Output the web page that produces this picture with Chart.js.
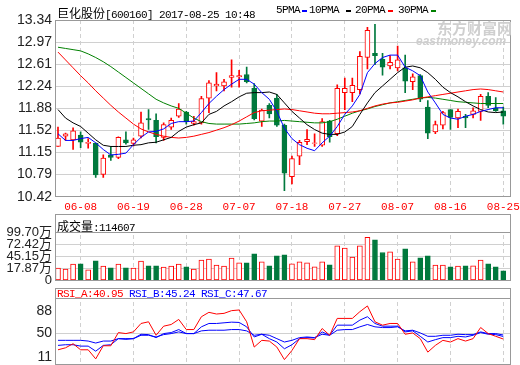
<!DOCTYPE html>
<html>
<head>
<meta charset="utf-8">
<script src="https://cdn.jsdelivr.net/npm/chart.js@4.4.0/dist/chart.umd.min.js"></script>
<style>
  html, body { margin: 0; padding: 0; background: #fff; }
  #wrap { position: relative; width: 520px; height: 365px; overflow: hidden; }
  canvas { position: absolute; left: 0; }
  .txt { position: absolute; white-space: nowrap; font: 11px 'Liberation Mono', monospace; letter-spacing: -0.6px; line-height: 12px; color: #000; }
  .cjk { font: 12px 'Noto Sans CJK SC', sans-serif; letter-spacing: 0; }
  .dash { position: absolute; width: 5px; height: 2px; }
  .wm { position: absolute; white-space: nowrap; color: #cfcfcf; font-weight: bold; }
</style>
</head>
<body>
<div id="wrap">
  <canvas id="main" width="520" height="214" style="top:0"></canvas>
  <canvas id="vol" width="520" height="81" style="top:207px"></canvas>
  <canvas id="rsi" width="520" height="84" style="top:281px"></canvas>

  <div class="txt" style="left:57px;top:4px"><span class="cjk">巨化股份</span>[600160] 2017-08-25 10:48</div>
  <div class="txt" style="left:276px;top:4px">5PMA</div><div class="dash" style="left:302px;top:10px;background:#0000ff"></div>
  <div class="txt" style="left:309px;top:4px">10PMA</div><div class="dash" style="left:346px;top:10px;background:#000"></div>
  <div class="txt" style="left:355px;top:4px">20PMA</div><div class="dash" style="left:388px;top:10px;background:#ff0000"></div>
  <div class="txt" style="left:398px;top:4px">30PMA</div><div class="dash" style="left:431px;top:10px;background:#008000"></div>

  <div class="wm" style="left:437px;top:20px;font:bold 15px 'Noto Sans CJK SC', sans-serif;line-height:15px">东方财富网</div>
  <div class="wm" style="left:416px;top:35px;font:italic bold 12px 'Liberation Sans', sans-serif;line-height:12px">eastmoney.com</div>

  <div class="txt" style="left:57px;top:217px"><span class="cjk">成交量</span>:114607</div>
  <div class="txt" style="left:57px;top:288px;color:#ff0000">RSI_A:40.95</div>
  <div class="txt" style="left:129px;top:288px;color:#0000ff">RSI_B:45.24</div>
  <div class="txt" style="left:201px;top:288px;color:#0000ff">RSI_C:47.67</div>
</div>
<script>
const DATES = ['06-05','06-06','06-07','06-08','06-09','06-12','06-13','06-14','06-15','06-16',
  '06-19','06-20','06-21','06-22','06-23','06-26','06-27','06-28','06-29','06-30',
  '07-03','07-04','07-05','07-06','07-07','07-10','07-11','07-12','07-13','07-14',
  '07-17','07-18','07-19','07-20','07-21','07-24','07-25','07-26','07-27','07-28',
  '07-31','08-01','08-02','08-03','08-04','08-07','08-08','08-09','08-10','08-11',
  '08-14','08-15','08-16','08-17','08-18','08-21','08-22','08-23','08-24','08-25'];

const OPEN = [11.25,11.42,11.36,11.44,11.30,11.30,10.79,11.11,11.07,11.36,
  11.30,11.42,11.71,11.68,11.40,11.57,11.75,11.82,11.63,11.64,
  12.05,12.25,12.25,12.39,12.40,12.44,12.21,11.67,11.93,12.05,
  11.60,10.75,11.09,11.33,11.30,11.27,11.67,11.46,12.14,12.14,
  12.19,12.72,12.79,12.69,12.58,12.55,12.55,12.32,12.42,11.90,
  11.49,11.60,11.86,11.72,11.75,11.78,11.83,12.08,11.88,11.84];
const HIGH = [11.57,11.47,11.56,11.49,11.38,11.31,11.11,11.25,11.41,11.49,
  11.39,11.82,11.86,11.79,11.64,11.72,11.96,11.83,11.75,12.08,
  12.34,12.47,12.36,12.68,12.51,12.56,12.29,11.87,11.96,12.11,
  11.62,11.09,11.35,11.53,11.46,11.71,11.68,12.27,12.38,12.38,
  12.82,13.22,13.27,12.79,12.75,12.91,12.76,12.45,12.44,12.01,
  11.67,11.83,11.86,11.87,11.78,11.89,12.11,12.14,12.06,11.90];
const LOW = [11.25,11.35,11.20,11.23,11.22,10.74,10.74,11.02,11.05,11.29,
  11.26,11.39,11.53,11.31,11.35,11.53,11.73,11.62,11.60,11.62,
  11.81,12.17,12.17,12.23,12.23,12.30,11.69,11.58,11.72,11.58,
  10.52,10.63,10.95,11.28,11.25,11.25,11.32,11.43,11.86,11.99,
  12.12,12.53,12.60,12.43,12.53,12.50,12.14,12.19,11.99,11.38,
  11.46,11.54,11.53,11.56,11.56,11.72,11.68,11.89,11.83,11.62];
const CLOSE = [11.39,11.46,11.51,11.32,11.32,10.78,11.06,11.07,11.40,11.31,
  11.36,11.64,11.69,11.41,11.61,11.68,11.87,11.66,11.66,12.04,
  12.30,12.28,12.32,12.42,12.42,12.32,11.71,11.85,11.79,11.60,
  10.81,11.05,11.32,11.37,11.31,11.66,11.41,12.21,12.21,12.26,
  12.74,13.17,12.75,12.56,12.64,12.68,12.33,12.40,12.03,11.47,
  11.61,11.81,11.73,11.83,11.72,11.84,12.08,11.93,11.84,11.75];

// moving averages
const MA5 = [11.46,11.35,11.35,11.38,11.40,11.31,11.20,11.11,11.12,11.14,
  11.28,11.40,11.49,11.50,11.54,11.63,11.66,11.66,11.67,11.81,
  11.96,12.08,12.19,12.28,12.36,12.36,12.28,12.14,12.03,11.83,
  11.55,11.38,11.28,11.22,11.18,11.31,11.42,11.58,11.78,11.92,
  12.11,12.47,12.62,12.72,12.76,12.76,12.56,12.50,12.42,12.15,
  11.97,11.78,11.72,11.70,11.75,11.78,11.83,11.86,11.89,11.89];
const MA10 = [11.86,11.72,11.64,11.58,11.47,11.36,11.27,11.25,11.25,11.25,
  11.27,11.28,11.31,11.32,11.36,11.40,11.50,11.57,11.61,11.64,
  11.78,11.83,11.92,11.99,12.07,12.13,12.14,12.14,12.15,12.11,
  11.97,11.83,11.72,11.61,11.53,11.47,11.45,11.45,11.49,11.58,
  11.78,11.97,12.14,12.25,12.36,12.47,12.56,12.58,12.55,12.47,
  12.36,12.23,12.14,12.07,11.99,11.92,11.86,11.82,11.81,11.82];
const MA20 = [12.81,12.68,12.55,12.42,12.30,12.17,12.05,11.93,11.82,11.72,
  11.62,11.54,11.49,11.45,11.42,11.40,11.39,11.40,11.42,11.45,
  11.48,11.52,11.56,11.61,11.67,11.74,11.81,11.84,11.85,11.86,
  11.87,11.86,11.84,11.82,11.80,11.79,11.79,11.80,11.81,11.82,
  11.84,11.88,11.92,11.95,11.97,11.98,12.00,12.02,12.05,12.07,
  12.09,12.11,12.13,12.15,12.17,12.19,12.20,12.19,12.17,12.15];
const MA30 = [12.89,12.87,12.85,12.83,12.78,12.72,12.65,12.57,12.48,12.39,
  12.30,12.21,12.12,12.03,11.97,11.92,11.88,11.80,11.72,11.66,
  11.63,11.62,11.62,11.62,11.62,11.63,11.64,11.66,11.67,11.67,
  11.68,11.67,11.66,11.65,11.64,11.64,11.66,11.70,11.75,11.80,
  11.84,11.87,11.91,11.94,11.97,11.99,12.01,12.03,12.05,12.06,
  12.05,12.03,12.01,11.99,11.98,11.97,11.96,11.96,11.96,11.96];

// volume in 万
const VOL = [17.8,15.5,26.9,27.6,14.0,34.5,22.3,18.6,26.9,18.6,
  17.8,33.7,23.1,23.1,20.1,22.3,26.9,20.8,15.5,36.0,
  38.2,24.6,22.3,40.5,29.9,29.9,50.4,32.2,23.1,45.8,
  48.1,27.6,32.2,29.9,20.8,32.2,25.4,68.6,63.2,42.8,
  68.6,88.3,82.2,53.4,54.9,38.2,61.7,32.2,41.3,45.8,
  24.6,24.6,20.8,22.3,23.1,23.1,36.0,27.6,20.8,11.46];

const RSI_A = [23.1,26.4,33.2,23.1,23.1,8.0,29.8,29.8,51.7,50.0,
  52.8,66.8,69.6,47.2,62.3,65.1,73.5,56.7,56.7,78.0,
  85.3,82.5,83.6,88.1,89.2,69.6,27.6,38.8,37.6,27.6,
  6.8,22.0,41.6,41.6,39.9,58.4,47.2,75.2,75.2,75.2,
  86.4,95.9,69.6,64.0,66.8,66.8,48.9,51.1,41.6,19.2,
  30.4,38.8,36.0,41.6,37.6,41.6,60.1,50.0,45.5,40.95];
const RSI_B = [30.4,31.5,31.5,29.2,29.2,20.8,30.4,31.5,41.6,40.4,
  41.6,48.9,48.3,43.3,50.0,51.7,56.7,50.0,50.0,61.2,
  66.8,66.8,67.9,69.0,68.5,61.2,44.4,48.9,41.6,36.0,
  24.8,31.5,41.6,43.3,42.7,52.8,47.2,64.0,64.0,64.0,
  72.4,78.0,66.8,62.3,62.3,62.3,52.8,54.5,45.5,36.0,
  39.9,43.3,43.3,45.5,44.4,47.2,51.7,48.9,48.3,45.24];
const RSI_C = [38.8,38.8,38.8,38.8,37.6,34.3,37.6,37.6,41.6,41.6,
  41.6,47.2,47.2,44.4,48.3,50.0,52.8,50.0,50.0,54.5,
  55.6,55.6,55.6,56.7,56.7,54.5,47.2,48.9,47.2,41.6,
  36.0,38.8,43.3,44.4,43.3,48.9,47.2,55.6,56.7,56.7,
  61.2,65.1,61.2,60.0,60.0,61.2,54.5,55.6,51.1,45.5,
  45.5,47.2,47.2,48.9,48.3,48.3,52.8,50.0,50.0,47.67];

const PRICE_TICKS = [10.42, 10.79, 11.15, 11.52, 11.88, 12.24, 12.61, 12.97, 13.34];
const VOL_TICKS = [17.87, 45.15, 72.42, 99.70];
const RSI_TICKS = [11, 50, 88];
const DATE_TICKS = [3, 10, 17, 24, 31, 38, 45, 52, 59];

const RED = '#ff0000', GREEN = '#00793d', GRID = '#d0d0d0', FRAME = '#999999';
const FAMILY = "'Liberation Sans Narrow', 'Liberation Sans', 'Noto Sans CJK SC', sans-serif";
const isUp = i => CLOSE[i] >= OPEN[i];
const VOL_FLOOR = VOL_TICKS[0] - (VOL_TICKS[1] - VOL_TICKS[0]);

// fixed axis sizes, and no extra room for label overhang
function fitY(s) { s.width = 55.5; s.paddingTop = 0; s.paddingBottom = 0; }

function xScale(showLabels) {
  return {
    type: 'linear', min: -0.33, max: 59.89, bounds: 'data', offset: false,
    afterBuildTicks: s => { s.ticks = DATE_TICKS.map(v => ({ value: v })); },
    afterFit: s => { s.height = showLabels ? 17.3 : 0; s.paddingLeft = 0; s.paddingRight = 0; },
    grid: { color: GRID, drawTicks: false, offset: false },
    border: { display: false, dash: [4, 3] },
    ticks: {
      display: showLabels, color: RED, padding: 4, maxRotation: 0, autoSkip: false,
      font: { family: "'Liberation Mono', monospace", size: 11 },
      callback: v => DATES[v]
    }
  };
}

function frame(boxLine) {
  return {
    id: 'frame',
    beforeDatasetsDraw(chart) {
      if (!boxLine) return;
      const { ctx, chartArea: a } = chart;
      ctx.save();
      ctx.fillStyle = '#fff';
      ctx.fillRect(a.left, a.top, a.right - a.left, boxLine(chart) - a.top);
      ctx.restore();
    },
    afterDraw(chart) {
      const { ctx, chartArea: a } = chart;
      ctx.save();
      ctx.strokeStyle = FRAME;
      ctx.lineWidth = 1;
      const l = Math.floor(a.left) + 0.5, r = Math.floor(a.right) + 0.5;
      const t = Math.floor(a.top) + 0.5, b = Math.floor(a.bottom) + 0.5;
      ctx.strokeRect(l, t, r - l, b - t);
      if (boxLine) {
        const y = Math.floor(boxLine(chart)) + 0.5;
        ctx.beginPath(); ctx.moveTo(l, y); ctx.lineTo(r, y); ctx.stroke();
      }
      ctx.restore();
    }
  };
}

const common = {
  responsive: false, animation: false, devicePixelRatio: 1, events: [],
  plugins: { legend: { display: false }, tooltip: { enabled: false } }
};

function maLine(arr, color) {
  return { type: 'line', data: arr.map((v, i) => ({ x: i, y: v })), borderColor: color,
           borderWidth: 1, pointRadius: 0, tension: 0, order: 0 };
}

// price chart
new Chart(document.getElementById('main'), {
  type: 'bar',
  data: {
    datasets: [
      maLine(MA5, '#0000ff'),
      maLine(MA10, '#000000'),
      maLine(MA20, RED),
      maLine(MA30, '#008000'),
      {
        data: OPEN.map((o, i) => ({ x: i, y: [o, CLOSE[i]] })),
        backgroundColor: OPEN.map((o, i) => isUp(i) ? '#ffffff' : GREEN),
        borderColor: OPEN.map((o, i) => isUp(i) ? RED : GREEN),
        borderWidth: 1, borderSkipped: false, barThickness: 5, grouped: false, order: 1
      },
      {
        data: LOW.map((l, i) => ({ x: i, y: [l, HIGH[i]] })),
        backgroundColor: OPEN.map((o, i) => isUp(i) ? RED : GREEN),
        borderWidth: 0, barThickness: 1, grouped: false, order: 2
      }
    ]
  },
  options: Object.assign({}, common, {
    layout: { padding: { top: 20, right: 10, left: 0, bottom: 0 } },
    scales: {
      x: xScale(true),
      y: {
        min: PRICE_TICKS[0], max: PRICE_TICKS[PRICE_TICKS.length - 1], bounds: 'data',
        afterBuildTicks: s => { s.ticks = PRICE_TICKS.map(v => ({ value: v })); },
        afterFit: fitY,
        grid: { color: GRID, drawTicks: false },
        border: { display: false },
        ticks: { color: '#222', padding: 3.5, font: { family: FAMILY, size: 14 }, autoSkip: false,
                 callback: v => v.toFixed(2) }
      }
    }
  }),
  plugins: [frame(null)]
});

// volume chart
new Chart(document.getElementById('vol'), {
  type: 'bar',
  data: {
    datasets: [{
      data: VOL.map((v, i) => ({ x: i, y: [VOL_FLOOR, v] })),
      backgroundColor: VOL.map((v, i) => isUp(i) ? '#ffffff' : GREEN),
      borderColor: VOL.map((v, i) => isUp(i) ? RED : GREEN),
      borderWidth: 1, borderSkipped: false, barThickness: 5, grouped: false
    }]
  },
  options: Object.assign({}, common, {
    layout: { padding: { top: 7, right: 10, left: 0, bottom: 8 } },
    scales: {
      x: xScale(false),
      y: {
        min: VOL_FLOOR, max: 141.3, bounds: 'data',
        afterBuildTicks: s => { s.ticks = [VOL_FLOOR].concat(VOL_TICKS).map(v => ({ value: v })); },
        afterFit: fitY,
        grid: {
          drawTicks: false,
          color: c => (c.tick && (c.tick.value === VOL_FLOOR || c.tick.value === 99.70)) ? 'rgba(0,0,0,0)' : GRID
        },
        border: { display: false },
        ticks: { color: '#222', padding: 3.5, font: { family: FAMILY, size: 13 }, autoSkip: false,
                 callback: v => v === VOL_FLOOR ? '0' : v.toFixed(2) + '万' }
      }
    }
  }),
  plugins: [frame(ch => ch.scales.y.getPixelForValue(99.70))]
});

// RSI chart
new Chart(document.getElementById('rsi'), {
  type: 'line',
  data: {
    datasets: [
      maLine(RSI_A, RED),
      maLine(RSI_B, '#0000ff'),
      maLine(RSI_C, '#0000ff')
    ]
  },
  options: Object.assign({}, common, {
    layout: { padding: { top: 7, right: 10, left: 0, bottom: 1 } },
    scales: {
      x: xScale(false),
      y: {
        min: -0.5, max: 125.7, bounds: 'data',
        afterBuildTicks: s => { s.ticks = RSI_TICKS.map(v => ({ value: v })); },
        afterFit: fitY,
        grid: { drawTicks: false, color: c => (c.tick && c.tick.value === 50) ? GRID : 'rgba(0,0,0,0)' },
        border: { display: false },
        ticks: { color: '#222', padding: 3.5, font: { family: FAMILY, size: 14 }, autoSkip: false }
      }
    }
  }),
  plugins: [frame(ch => ch.chartArea.top + 10.7)]
});
</script>
</body>
</html>
